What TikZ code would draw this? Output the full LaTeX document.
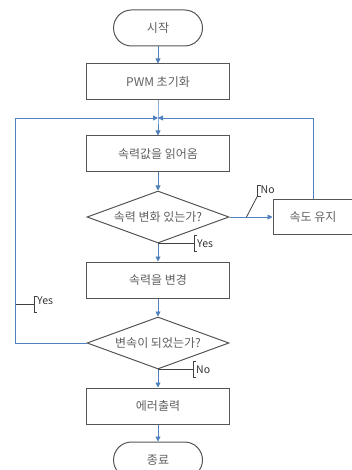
\documentclass[tikz,border=0pt]{standalone}
\usepackage{fontspec}
\setmainfont{Noto Sans CJK KR}
\usepackage{tikz}
\usetikzlibrary{shapes.geometric,arrows.meta,positioning,calc}
\definecolor{flowblue}{RGB}{79,129,189}
\definecolor{boxgray}{RGB}{85,85,85}
\definecolor{textgray}{RGB}{96,96,96}

\begin{document}
\begin{tikzpicture}[
		node distance=18pt,
		proc/.style={rectangle, draw=boxgray, line width=1pt, minimum width=143pt,
				minimum height=36pt, inner sep=0pt, font=\fontsize{12}{14}\selectfont,
				text=textgray},
		term/.style={proc, rounded corners=18pt, minimum width=89pt},
		decide/.style={diamond, draw=boxgray, line width=1pt, aspect=2.73,
				minimum width=142pt, minimum height=52pt, inner sep=0pt,
				font=\fontsize{12}{14}\selectfont, text=textgray},
		arr/.style={-{Triangle[length=5pt,width=5pt]}, line width=0.9pt, flowblue},
		lbl/.style={line width=0.8pt, black!75},
		lbltxt/.style={font=\fontsize{10.5}{12}\selectfont, text=black!80, inner sep=1pt},
		]
		\useasboundingbox (0,0) rectangle (352pt,-470pt);
		% Nodes
		\node[term] (start) at (158pt,-28pt) {시작};
		\node[proc, below=17pt of start] (pwm) {PWM 초기화};
		\node[proc, below=35pt of pwm] (read) {속력값을 읽어옴};
		\node[decide, below=of read] (chk) {속력 변화 있는가?};
		\node[proc, right=43pt of chk, minimum width=80pt, minimum height=35pt] (keep) {속도 유지};
		\node[proc, below=of chk] (change) {속력을 변경};
		\node[decide, below=of change] (shift) {변속이 되었는가?};
		\node[proc, below=of shift] (err) {에러출력};
		\node[term, below=17pt of err] (stop) {종료};
		\coordinate (merge) at ($(pwm.south)!0.5!(read.north)$);

		% Arrows
		\draw[arr] (start) -- (pwm);
		\draw[arr] (pwm) -- (merge) -- (read);
		\draw[arr] (read) -- (chk);
		\draw[arr] (chk) -- (keep);
		\draw[arr] (chk) -- (change);
		\draw[arr] (change) -- (shift);
		\draw[arr] (shift) -- (err);
		\draw[arr] (err) -- (stop);
		\draw[arr] (keep.north) |- (merge);
		\draw[arr] (shift.west) -- ++(-71pt,0) |- (merge);

		% Yes / No labels
		\coordinate (nofoot) at ($(chk.east)+(17pt,0)$);
		\draw[lbl] (nofoot) -- ++(11pt,21pt) coordinate (no1);
		\draw[lbl] ($(no1)+(3pt,0)$) -- ++(-3pt,0) -- ++(0,11pt) -- ++(3pt,0);
		\node[lbltxt, anchor=west] at ($(no1)+(2pt,6pt)$) {No};

		\draw[lbl] (chk.south) -- ++(36pt,0) coordinate (yes1);
		\draw[lbl] ($(yes1)+(3pt,8pt)$) -- ++(-3pt,0) -- ++(0,-16pt) -- ++(3pt,0);
		\node[lbltxt, anchor=west] at ($(yes1)+(2pt,0)$) {Yes};

		\coordinate (yesfoot) at (16pt,-304pt);
		\draw[lbl] (yesfoot) -- ++(18pt,0) coordinate (yes2);
		\draw[lbl] ($(yes2)+(3pt,8pt)$) -- ++(-3pt,0) -- ++(0,-16pt) -- ++(3pt,0);
		\node[lbltxt, anchor=west] at ($(yes2)+(2pt,3pt)$) {Yes};

		\draw[lbl] (shift.south) -- ++(35pt,0) coordinate (no2);
		\draw[lbl] ($(no2)+(3pt,8pt)$) -- ++(-3pt,0) -- ++(0,-16pt) -- ++(3pt,0);
		\node[lbltxt, anchor=west] at ($(no2)+(2pt,0)$) {No};
	\end{tikzpicture}
\end{document}
